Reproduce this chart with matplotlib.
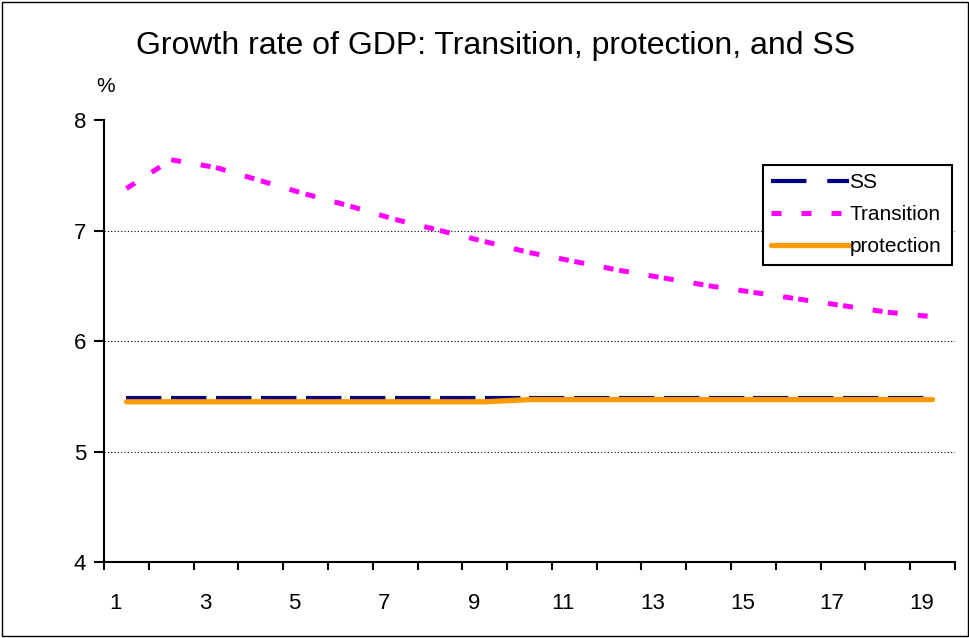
import matplotlib.pyplot as plt
import matplotlib.transforms as mtransforms
import numpy as np

plt.rcParams.update({"font.family": ["Liberation Sans", "DejaVu Sans"], "font.size": 16})

periods = np.arange(1, 20)
ss = [5.48] * 19
transition = [7.38, 7.64, 7.57, 7.45, 7.33, 7.22, 7.10, 7.00, 6.90, 6.80,
              6.72, 6.64, 6.57, 6.50, 6.44, 6.38, 6.32, 6.26, 6.22]
protection = [5.45] * 9 + [5.47] * 10
tick_labels = [str(p) if p % 2 else '' for p in periods]

fig = plt.figure(figsize=(9.7, 6.38), dpi=100)
ax = fig.add_axes([104/970, 1-562/638, 851/970, 442/638])

# Excel restarts the dash pattern on every segment, so draw segment by segment
for i in range(len(periods) - 1):
    ax.plot(periods[i:i+2], ss[i:i+2], color='#000080', lw=3.0, dashes=(8.5, 5),
            solid_capstyle='butt', dash_capstyle='butt', label='SS' if i == 0 else None)
for i in range(len(periods) - 1):
    ax.plot(periods[i:i+2], transition[i:i+2], color='#FF00FF', lw=3.6, dashes=(2, 4),
            dash_capstyle='butt', label='Transition' if i == 0 else None)
ax.plot(periods, protection, color='#FF9900', lw=3.8, solid_capstyle='round', label='protection')

ax.set_xlim(0.5, 19.5)
ax.set_ylim(4, 8)
ax.set_yticks([4, 5, 6, 7, 8])
ax.set_xticks(periods)
ax.set_xticklabels(tick_labels)
ax.set_xticks(np.arange(0.5, 20, 1), minor=True)
ax.tick_params(axis='x', which='major', length=0, pad=22)
ax.tick_params(axis='x', which='minor', length=6, width=1.5, direction='out')
ax.tick_params(axis='y', length=7, width=1.5, direction='out', pad=6)
offset = mtransforms.ScaledTranslation(-11/100, 0, fig.dpi_scale_trans)
for lbl in ax.get_xticklabels():
    lbl.set_transform(lbl.get_transform() + offset)
for y in [5, 6, 7]:
    ax.axhline(y, color='black', lw=0.8, ls=(0, (1, 2)), zorder=0)
ax.spines['top'].set_visible(False)
ax.spines['right'].set_visible(False)
ax.spines['left'].set_linewidth(1.5)
ax.spines['bottom'].set_linewidth(1.5)

fig.text(496/970, 1-46/638, 'Growth rate of GDP: Transition, protection, and SS',
         ha='center', va='center', fontsize=23)
fig.text(106/970, 1-87/638, '%', ha='center', va='center', fontsize=15)

leg = ax.legend(loc='upper left', bbox_to_anchor=((763-104)/851, (562-165)/442),
                frameon=True, fancybox=False, edgecolor='black', framealpha=1, fontsize=15,
                handlelength=3.75, handletextpad=0.1, borderpad=0.4, labelspacing=0.62,
                borderaxespad=0)
leg.get_frame().set_linewidth(1.5)
for text in leg.get_texts():
    text.set_x(-2)

fig.patches.append(plt.Rectangle((2/970, 2/638), 966/970, 634/638, transform=fig.transFigure,
                                 fill=False, edgecolor='black', lw=1))

fig.savefig('out.png', dpi=100)
